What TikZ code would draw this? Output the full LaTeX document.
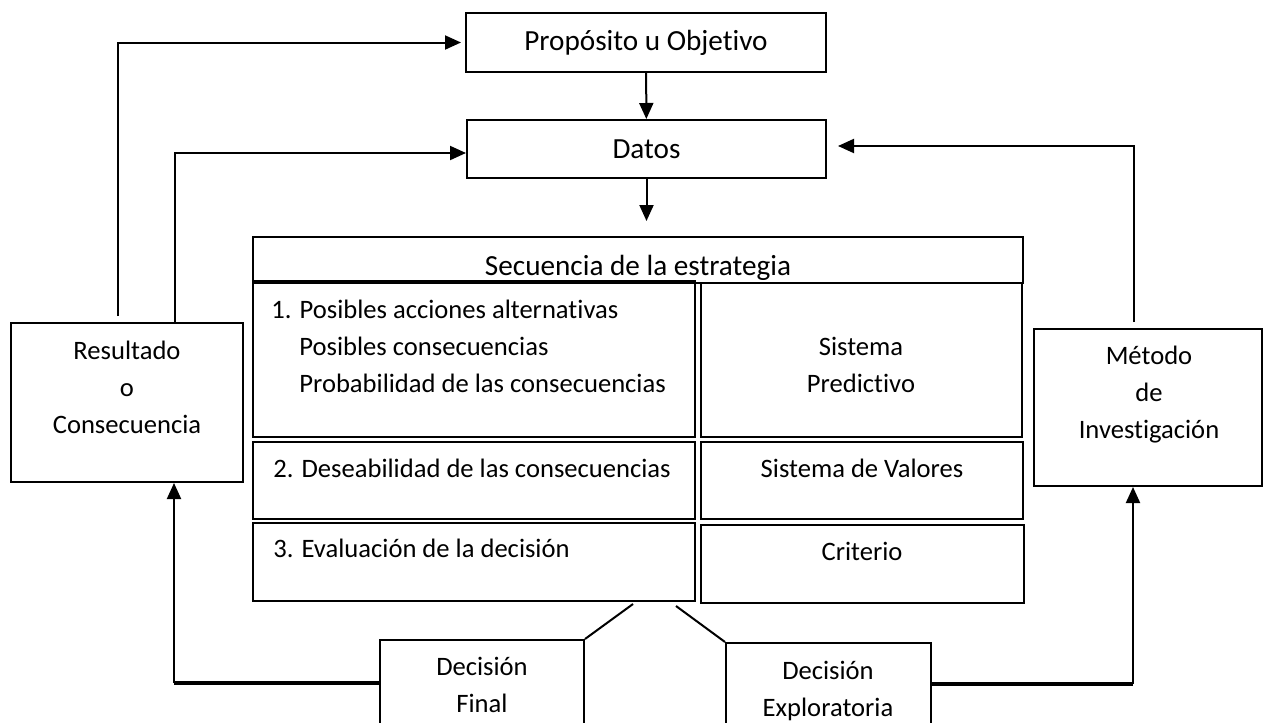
\documentclass[tikz,border=0pt]{standalone}
\usepackage{fontspec}
\setmainfont{Carlito}[Ligatures=NoCommon]
\usetikzlibrary{arrows.meta}

\begin{document}
\begin{tikzpicture}[x=0.5pt,y=-0.5pt,
	box/.style={draw,line width=1pt,inner sep=0pt},
	txt/.style={inner sep=0pt,font=\fontsize{13.3}{18.5}\selectfont,align=center},
	bigtxt/.style={txt,font=\fontsize{14.6}{18.5}\selectfont},
	arr/.style={line width=1pt,-{Triangle[length=8pt,width=7pt]}},
	heavy/.style={line width=2pt}]

	\useasboundingbox (0,0) rectangle (1264,723);

	%Top boxes
	\node[box,bigtxt,minimum width=180pt,minimum height=29.5pt] (prop) at (646,42.5) {Propósito u Objetivo};
	\node[box,bigtxt,minimum width=179.5pt,minimum height=29pt] (datos) at (646.5,149) {Datos};

	%Strategy table: header, left column, right column
	\node[box,minimum width=385pt,minimum height=23pt] (head) at (638,260) {};
	\node[box,minimum width=221pt,minimum height=78pt] (r1l) at (474,359) {};
	\node[box,minimum width=160.5pt,minimum height=77pt] (r1r) at (861.5,360) {};
	\node[box,minimum width=221pt,minimum height=38.5pt] (r2l) at (474,480.5) {};
	\node[box,minimum width=161pt,minimum height=38.5pt] (r2r) at (862,480.5) {};
	\node[box,minimum width=221pt,minimum height=39pt] (r3l) at (474,562) {};
	\node[box,minimum width=161.5pt,minimum height=39pt] (r3r) at (862.5,564) {};

	\node[bigtxt,anchor=north] (headtxt) at (638,249) {\strut Secuencia de la estrategia};
	\node[txt,anchor=north west,align=left] (r1ltxt) at (271,292) {\strut 1. Posibles acciones alternativas\\
		\hspace*{14pt}Posibles consecuencias\\
		\hspace*{14pt}Probabilidad de las consecuencias};
	\node[txt,anchor=north] (r1rtxt) at (861,329) {\strut Sistema\\Predictivo};
	\node[txt,anchor=north west,align=left] (r2ltxt) at (273,451) {\strut 2. Deseabilidad de las consecuencias};
	\node[txt,anchor=north] (r2rtxt) at (862,451) {\strut Sistema de Valores};
	\node[txt,anchor=north west,align=left] (r3ltxt) at (273,531) {\strut 3. Evaluación de la decisión};
	\node[txt,anchor=north] (r3rtxt) at (862,534) {\strut Criterio};

	%Side boxes
	\node[box,minimum width=116pt,minimum height=79.5pt] (res) at (127,402.5) {};
	\node[txt,anchor=north] (restxt) at (127,333) {\strut Resultado\\o\\Consecuencia};
	\node[box,minimum width=114pt,minimum height=78.5pt] (met) at (1148,407.5) {};
	\node[txt,anchor=north] (mettxt) at (1149,338) {\strut Método\\de\\Investigación};

	%Decision boxes (cut by the bottom edge)
	\node[box,minimum width=102pt,minimum height=60pt] (fin) at (482,700) {};
	\node[txt,anchor=north] (fintxt) at (482,649) {\strut Decisión\\Final};
	\node[box,minimum width=102.5pt,minimum height=60pt] (exp) at (828.5,703) {};
	\node[txt,anchor=north] (exptxt) at (828,653) {\strut Decisión\\Exploratoria};

	%Arrows at the top
	\draw[arr] (prop) -- (datos);
	\draw[arr] (datos.south) -- ++(0,42);
	\draw[arr] ([shift={(-9,-6)}]res.north) |- ([xshift=-2pt]prop.west);
	\draw[arr] ([shift={(48,0)}]res.north) |- ([shift={(0,4)}]datos.west);
	\draw[arr] ([shift={(-14,-6)}]met.north) |- ([shift={(11,-3)}]datos.east);

	%Branches to the decisions
	\draw[line width=1pt] ([shift={(159,2)}]r3l.south) -- (fin.north east);
	\draw[line width=1pt] ([shift={(202,4)}]r3l.south) -- (exp.north west);

	%Feedback from the decisions
	\coordinate (finL) at ([shift={(0,-17)}]fin.west);
	\coordinate (resB) at ([shift={(47,0)}]res.south);
	\draw[heavy] (finL) -- (finL -| resB);
	\draw[arr] (finL -| resB) -- (resB);
	\coordinate (expR) at ([shift={(0,-19)}]exp.east);
	\coordinate (metB) at ([shift={(-15,0)}]met.south);
	\draw[heavy] (expR) -- (expR -| metB);
	\draw[arr] (expR -| metB) -- (metB);

\end{tikzpicture}
\end{document}
